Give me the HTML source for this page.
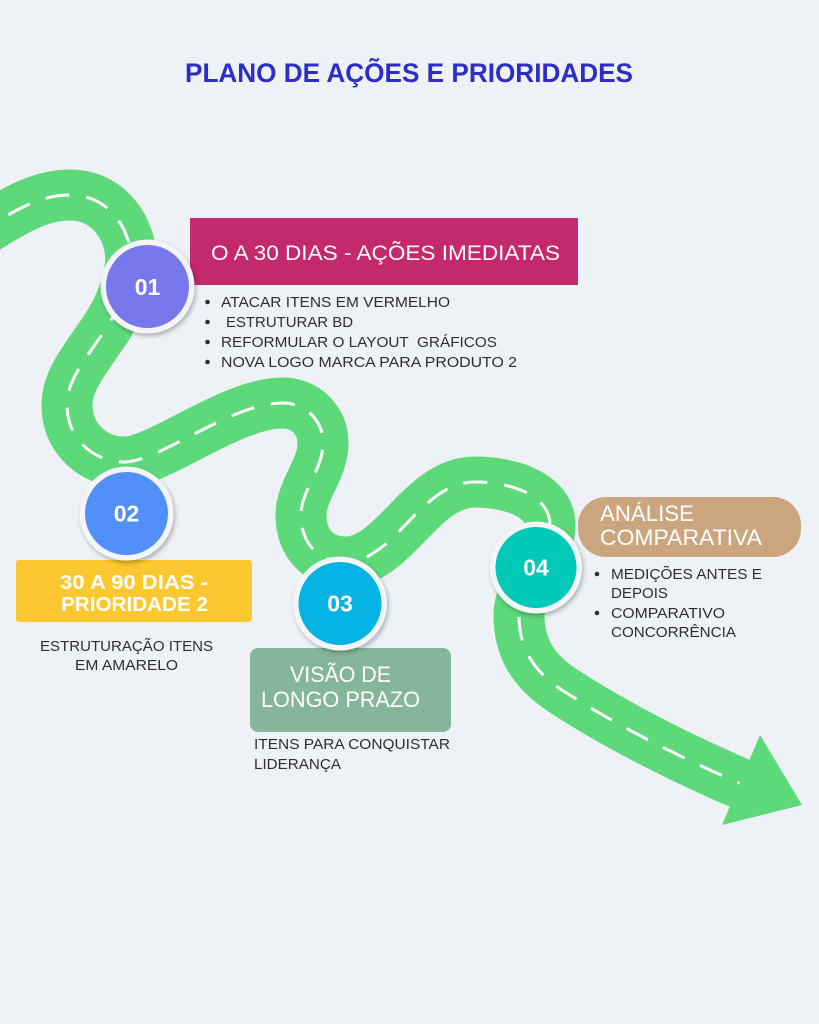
<!DOCTYPE html>
<html><head><meta charset="utf-8"><style>
html,body{margin:0;padding:0;background:#eef2f7;}
svg{display:block;}
text{font-family:"Liberation Sans",Arial,sans-serif;}
</style></head><body>
<svg width="819" height="1024" viewBox="0 0 819 1024" xmlns="http://www.w3.org/2000/svg">
<defs>
<filter id="sh" x="-30%" y="-30%" width="160%" height="160%">
<feDropShadow dx="1.5" dy="2.5" stdDeviation="2.5" flood-color="#000" flood-opacity="0.28"/>
</filter>
<path id="road" d="M -20,232 C 15,210 40,195 70,195 C 100,195 120,215 128,240 C 136,265 125,300 105,330 C 85,360 67,380 67,405 C 67,440 95,462 124,462 C 160,462 230,403 283,403 C 305,403 323,420 323,443 C 323,470 301,490 301,515 C 301,545 320,562 345,562 C 395,562 420,482 475,482 C 510,482 550,495 550,525 C 550,560 519,585 519,615 C 519,650 535,672 562,690 C 620,728 690,762 748,787"/>
</defs>
<rect width="819" height="1024" fill="#eef2f7"/>

<text x="185" y="82" font-size="27" font-weight="bold" fill="#2c2fc6" textLength="448" lengthAdjust="spacingAndGlyphs">PLANO DE AÇÕES E PRIORIDADES</text>

<!-- road -->
<use href="#road" fill="none" stroke="#5dd97a" stroke-width="51" stroke-linejoin="round"/>
<use href="#road" fill="none" stroke="#ffffff" stroke-width="3" stroke-dasharray="24 17" stroke-dashoffset="8"/>
<polygon points="760,735 802,805 722,825" fill="#5dd97a"/>

<!-- boxes -->
<rect x="190" y="218" width="388" height="67" fill="#c4296d"/>
<text x="211" y="260" font-size="21" fill="#ffffff" textLength="349" lengthAdjust="spacingAndGlyphs">O A 30 DIAS - AÇÕES IMEDIATAS</text>

<g fill="#2e2e2e" font-size="15">
<circle cx="207.5" cy="302" r="2.3"/>
<circle cx="207.5" cy="322" r="2.3"/>
<circle cx="207.5" cy="342" r="2.3"/>
<circle cx="207.5" cy="362" r="2.3"/>
<text x="221" y="307" textLength="229" lengthAdjust="spacingAndGlyphs">ATACAR ITENS EM VERMELHO</text>
<text x="226" y="327" textLength="127" lengthAdjust="spacingAndGlyphs">ESTRUTURAR BD</text>
<text x="221" y="347" textLength="276" lengthAdjust="spacingAndGlyphs" xml:space="preserve">REFORMULAR O LAYOUT  GRÁFICOS</text>
<text x="221" y="367" textLength="296" lengthAdjust="spacingAndGlyphs">NOVA LOGO MARCA PARA PRODUTO 2</text>
</g>

<rect x="16" y="560" width="236" height="62" rx="3" fill="#fdc82f"/>
<g fill="#ffffff" font-size="20" font-weight="bold">
<text x="60" y="589" textLength="148" lengthAdjust="spacingAndGlyphs">30 A 90 DIAS -</text>
<text x="61" y="611" textLength="147" lengthAdjust="spacingAndGlyphs">PRIORIDADE 2</text>
</g>
<g fill="#2e2e2e" font-size="15">
<text x="40" y="651" textLength="173" lengthAdjust="spacingAndGlyphs">ESTRUTURAÇÃO ITENS</text>
<text x="75" y="670" textLength="103" lengthAdjust="spacingAndGlyphs">EM AMARELO</text>
</g>

<rect x="250" y="648" width="201" height="84" rx="8" fill="#86b699"/>
<g fill="#ffffff" font-size="22">
<text x="290" y="682" textLength="101" lengthAdjust="spacingAndGlyphs">VISÃO DE</text>
<text x="261" y="707" textLength="159" lengthAdjust="spacingAndGlyphs">LONGO PRAZO</text>
</g>
<g fill="#2e2e2e" font-size="15">
<text x="254" y="749" textLength="196" lengthAdjust="spacingAndGlyphs">ITENS PARA CONQUISTAR</text>
<text x="254" y="769" textLength="87" lengthAdjust="spacingAndGlyphs">LIDERANÇA</text>
</g>

<rect x="578" y="497" width="223" height="60" rx="28" fill="#cba57e"/>
<g fill="#ffffff" font-size="22">
<text x="600" y="521" textLength="94" lengthAdjust="spacingAndGlyphs">ANÁLISE</text>
<text x="600" y="545" textLength="162" lengthAdjust="spacingAndGlyphs">COMPARATIVA</text>
</g>
<g fill="#2e2e2e" font-size="15">
<circle cx="597" cy="574" r="2.3"/>
<circle cx="597" cy="613" r="2.3"/>
<text x="611" y="579" textLength="151" lengthAdjust="spacingAndGlyphs">MEDIÇÕES ANTES E</text>
<text x="611" y="598" textLength="57" lengthAdjust="spacingAndGlyphs">DEPOIS</text>
<text x="611" y="618" textLength="114" lengthAdjust="spacingAndGlyphs">COMPARATIVO</text>
<text x="611" y="637" textLength="125" lengthAdjust="spacingAndGlyphs">CONCORRÊNCIA</text>
</g>

<!-- circles -->
<g filter="url(#sh)"><circle cx="147.5" cy="286.5" r="47" fill="#f3f5f8"/></g>
<circle cx="147.5" cy="286.5" r="41.5" fill="#7878ec"/>
<text x="147.5" y="295" font-size="23" font-weight="bold" fill="#fff" text-anchor="middle">01</text>

<g filter="url(#sh)"><circle cx="126.5" cy="513.5" r="47" fill="#f3f5f8"/></g>
<circle cx="126.5" cy="513.5" r="41.5" fill="#528ffa"/>
<text x="126.5" y="521.5" font-size="23" font-weight="bold" fill="#fff" text-anchor="middle">02</text>

<g filter="url(#sh)"><circle cx="340" cy="603.5" r="47" fill="#f3f5f8"/></g>
<circle cx="340" cy="603.5" r="41.5" fill="#04b3e4"/>
<text x="340" y="611.5" font-size="23" font-weight="bold" fill="#fff" text-anchor="middle">03</text>

<g filter="url(#sh)"><circle cx="536" cy="567.5" r="46" fill="#f3f5f8"/></g>
<circle cx="536" cy="567.5" r="40.5" fill="#00c9b7"/>
<text x="536" y="575.5" font-size="23" font-weight="bold" fill="#fff" text-anchor="middle">04</text>
</svg>
</body></html>
